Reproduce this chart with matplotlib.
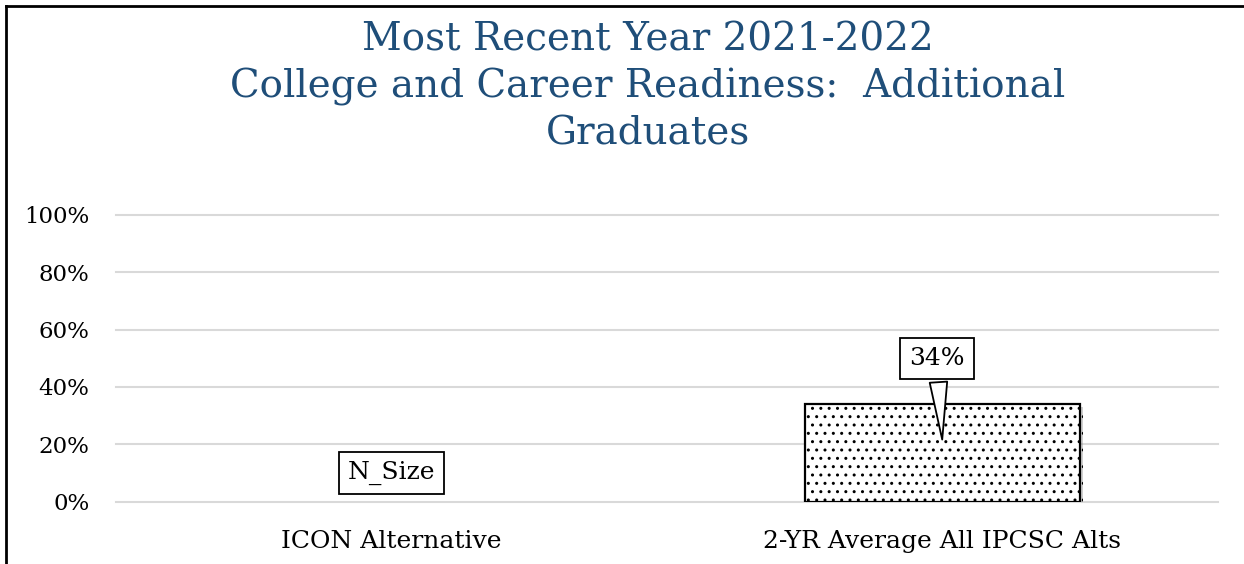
import numpy as np
import matplotlib
matplotlib.use('Agg')
import matplotlib.pyplot as plt
import matplotlib.patheffects as pe
from matplotlib.lines import Line2D

# 数据
categories = ['ICON Alternative', '2-YR Average All IPCSC Alts']
values = [np.nan, 0.34]          # 第一个没有数值，只显示 N_Size
bar_labels = ['N_Size', '34%']
label_y = [0.10, 0.50]            # 标签框的高度（数据坐标）
yticks = [0, 0.2, 0.4, 0.6, 0.8, 1.0]
title = 'Most Recent Year 2021-2022\nCollege and Career Readiness:  Additional\nGraduates'

plt.rcParams['font.family'] = ['DejaVu Serif']
plt.rcParams['hatch.color'] = '#333333'
title_color = '#1F4E79'

fig = plt.figure(figsize=(12.44, 5.64), dpi=100)
ax = fig.add_axes([0.0932, 0.110, 0.8858, 0.5096])

x = np.arange(len(categories))
bars = ax.bar(x, np.nan_to_num(values), width=0.5, color='white', edgecolor='black',
              linewidth=1.6, hatch='..', zorder=3)
for b, v in zip(bars, values):
    if np.isnan(v):
        b.set_visible(False)
    else:
        b.set_path_effects([pe.SimplePatchShadow(offset=(2, -2), shadow_rgbFace='#888888', alpha=0.4),
                            pe.Normal()])

# 标签
for i, (v, lab) in enumerate(zip(values, bar_labels)):
    box = dict(boxstyle='square,pad=0.36', fc='white', ec='black', lw=1.3)
    if np.isnan(v):
        ax.text(x[i], label_y[i], lab, ha='center', va='center', fontsize=18,
                bbox=box, zorder=5)
    else:
        ax.annotate(lab, xy=(x[i], v * 0.61), xytext=(x[i] - 0.01, label_y[i]),
                    ha='center', va='center', fontsize=18, bbox=box, zorder=5,
                    arrowprops=dict(arrowstyle='wedge,tail_width=0.7,shrink_factor=0.5',
                                    fc='white', ec='black', lw=1.3))

ax.set_xlim(-0.5, 1.5)
ax.set_ylim(0, 1)
ax.set_yticks(yticks)
ax.set_yticklabels([f'{int(round(t * 100))}%' for t in yticks], fontsize=16.5)
ax.set_xticks(x)
ax.set_xticklabels(categories, fontsize=18)
ax.tick_params(length=0)
ax.tick_params(axis='y', pad=19)
ax.tick_params(axis='x', pad=20)
ax.yaxis.grid(True, color='#D9D9D9', lw=1.5, zorder=0)
for gl in ax.get_ygridlines():
    gl.set_clip_on(False)
for s in ax.spines.values():
    s.set_visible(False)

fig.text(0.521, 0.961, title, ha='center', va='top', fontsize=28,
         color=title_color, linespacing=1.31)

# 外框（左、上）
fig.add_artist(Line2D([6 / 1244, 6 / 1244], [0, 1 - 6 / 564], color='black', lw=2))
fig.add_artist(Line2D([6 / 1244, 1], [1 - 6 / 564, 1 - 6 / 564], color='black', lw=2))

fig.savefig('out.png', dpi=100)
